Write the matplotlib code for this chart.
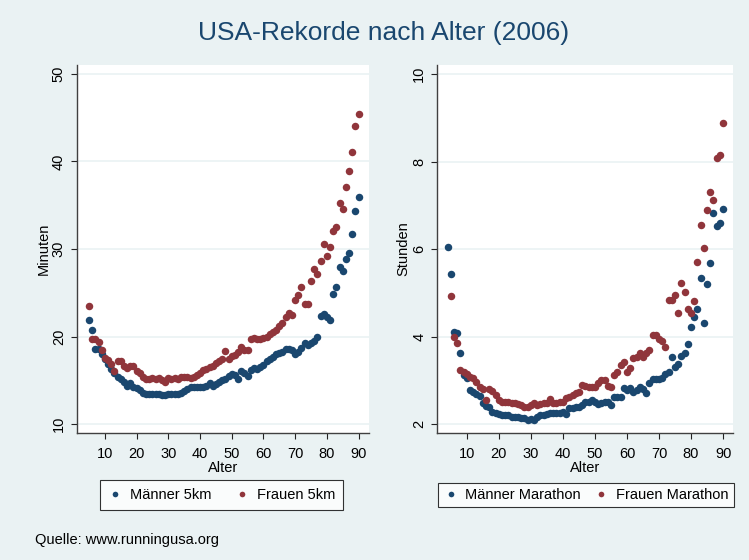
import matplotlib
matplotlib.use("Agg")
import matplotlib.pyplot as plt
import numpy as np

plt.rcParams['font.family'] = ['Liberation Sans', 'DejaVu Sans']

# Stata s2color
blau = '#1A476F'
rot = '#90353B'
hintergrund = '#EAF2F3'

# 5km (Minuten), Alter 5..90
alter_5km = list(range(5, 91))
maenner_5km = [21.9, 20.7, 18.6, 18.6, 18.0, 17.4, 16.9, 16.3, 15.8, 15.4,
               15.2, 14.8, 14.4, 14.7, 14.3, 14.1, 13.9, 13.6, 13.5, 13.5,
               13.4, 13.4, 13.4, 13.3, 13.3, 13.4, 13.4, 13.5, 13.5, 13.6,
               13.8, 14.0, 14.2, 14.3, 14.3, 14.3, 14.3, 14.4, 14.7, 14.4,
               14.6, 14.8, 15.0, 15.2, 15.5, 15.7, 15.6, 15.2, 16.1, 15.8,
               15.5, 16.2, 16.4, 16.3, 16.5, 16.8, 17.2, 17.4, 17.7, 18.0,
               18.1, 18.2, 18.6, 18.6, 18.5, 18.0, 18.3, 18.7, 19.3, 19.1,
               19.3, 19.5, 20.0, 22.3, 22.6, 22.2, 21.9, 24.9, 25.7, 28.0,
               27.5, 28.9, 29.5, 31.7, 34.3, 35.9]
frauen_5km = [23.5, 19.7, 19.7, 19.4, 18.5, 17.6, 17.3, 16.9, 16.1, 17.2,
              17.2, 16.7, 16.4, 16.6, 16.6, 16.1, 15.8, 15.4, 15.2, 15.2,
              15.3, 15.2, 15.3, 15.0, 14.8, 15.3, 15.2, 15.3, 15.2, 15.4,
              15.4, 15.4, 15.3, 15.4, 15.6, 15.9, 16.2, 16.3, 16.5, 16.7,
              17.0, 17.2, 17.5, 18.4, 17.5, 17.8, 17.9, 18.3, 18.8, 18.5,
              18.5, 19.7, 19.8, 19.7, 19.7, 19.8, 20.0, 20.3, 20.5, 20.8,
              21.2, 21.6, 22.2, 22.7, 22.5, 24.2, 24.7, 25.7, 23.7, 23.7,
              26.4, 27.7, 27.1, 28.6, 30.6, 29.2, 30.2, 32.0, 32.5, 35.3,
              34.6, 37.1, 38.9, 41.1, 44.0, 45.4]

# Marathon (Stunden)
alter_m_marathon = list(range(4, 91))
maenner_marathon = [6.06, 5.43, 4.12, 4.08, 3.62, 3.12, 3.05, 2.78, 2.74, 2.69,
                    2.65, 2.48, 2.42, 2.40, 2.29, 2.26, 2.24, 2.22, 2.21, 2.21,
                    2.18, 2.16, 2.17, 2.14, 2.14, 2.10, 2.12, 2.11, 2.17, 2.21,
                    2.22, 2.24, 2.25, 2.25, 2.27, 2.25, 2.28, 2.24, 2.37, 2.37,
                    2.39, 2.40, 2.44, 2.50, 2.52, 2.56, 2.50, 2.46, 2.48, 2.52,
                    2.50, 2.44, 2.63, 2.63, 2.62, 2.82, 2.78, 2.82, 2.75, 2.78,
                    2.86, 2.80, 2.72, 2.94, 3.03, 3.03, 3.03, 3.05, 3.15, 3.20,
                    3.53, 3.32, 3.39, 3.56, 3.62, 3.83, 4.22, 4.46, 4.63, 5.34,
                    4.31, 5.20, 5.68, 6.82, 6.53, 6.59, 6.91]
alter_f_marathon = list(range(5, 91))
frauen_marathon = [4.94, 4.00, 3.87, 3.24, 3.20, 3.15, 3.09, 3.05, 2.97, 2.86,
                   2.80, 2.56, 2.80, 2.76, 2.66, 2.56, 2.52, 2.52, 2.50, 2.48,
                   2.48, 2.46, 2.44, 2.40, 2.40, 2.44, 2.48, 2.44, 2.46, 2.48,
                   2.49, 2.59, 2.48, 2.48, 2.50, 2.52, 2.60, 2.63, 2.67, 2.71,
                   2.74, 2.90, 2.88, 2.86, 2.86, 2.86, 2.95, 3.01, 3.01, 2.88,
                   2.86, 3.13, 3.20, 3.36, 3.43, 3.20, 3.28, 3.51, 3.55, 3.62,
                   3.55, 3.62, 3.70, 4.04, 4.04, 3.94, 3.90, 3.77, 4.84, 4.84,
                   4.96, 4.54, 5.22, 5.03, 4.63, 4.54, 4.82, 5.72, 6.56, 6.04,
                   6.90, 7.32, 7.13, 8.08, 8.16, 8.89]

xticks = [10, 20, 30, 40, 50, 60, 70, 80, 90]

W, H = 749, 560
fig = plt.figure(figsize=(W / 100, H / 100), dpi=100, facecolor=hintergrund)


def px_axes(x0, y0, x1, y1):
    return fig.add_axes([x0 / W, 1 - y1 / H, (x1 - x0) / W, (y1 - y0) / H])


def style(ax, yticks, ylabel):
    ax.set_facecolor('white')
    for s in ['top', 'right']:
        ax.spines[s].set_visible(False)
    for s in ['left', 'bottom']:
        ax.spines[s].set_color('#404040')
        ax.spines[s].set_linewidth(1.0)
    ax.set_xticks(xticks)
    ax.set_yticks(yticks)
    ax.set_yticklabels([str(t) for t in yticks], rotation=90, va='center')
    ax.tick_params(axis='x', labelsize=10.5, length=4, width=0.8,
                   color='#222222', pad=6)
    ax.tick_params(axis='y', labelsize=10.5, length=4, width=0.8,
                   color='#222222', pad=4)
    ax.grid(axis='y', color=hintergrund, linewidth=1.2)
    ax.set_axisbelow(True)
    ax.set_xlabel('Alter', fontsize=10.5, labelpad=0)
    ax.set_ylabel(ylabel, fontsize=10.5, labelpad=1)


# links: 5km
ax1 = px_axes(77, 65, 368.7, 433)
ax1.plot(alter_5km, maenner_5km, 'o', color=blau, markersize=5.4, mec='none',
         label='Männer 5km')
ax1.plot(alter_5km, frauen_5km, 'o', color=rot, markersize=5.4, mec='none',
         label='Frauen 5km')
ax1.set_xlim(1.2, 93.2)
ax1.set_ylim(9.0, 51.0)
style(ax1, [10, 20, 30, 40, 50], 'Minuten')

# rechts: Marathon
ax2 = px_axes(437.3, 65, 732.7, 432.7)
ax2.plot(alter_m_marathon, maenner_marathon, 'o', color=blau, markersize=5.4,
         mec='none', label='Männer Marathon')
ax2.plot(alter_f_marathon, frauen_marathon, 'o', color=rot, markersize=5.4,
         mec='none', label='Frauen Marathon')
ax2.set_xlim(0.8, 93.0)
ax2.set_ylim(1.81, 10.21)
style(ax2, [2, 4, 6, 8, 10], 'Stunden')

for ax, cx, spalte, pad in [(ax1, 221.5, 1.6, 0.55), (ax2, 586, 0.9, 0.35)]:
    leg = ax.legend(loc='center', bbox_to_anchor=(cx / W, 1 - 495 / H),
                    bbox_transform=fig.transFigure, ncol=2, fontsize=10.5,
                    frameon=True, fancybox=False, markerscale=0.75,
                    handletextpad=0.5, columnspacing=spalte, handlelength=1.0,
                    borderpad=pad, borderaxespad=0)
    leg.get_frame().set_edgecolor('black')
    leg.get_frame().set_linewidth(0.8)
    leg.get_frame().set_facecolor('white')

fig.text(384 / W, 1 - 33 / H, 'USA-Rekorde nach Alter (2006)', fontsize=19,
         color=blau, ha='center', va='center')
fig.text(35 / W, 1 - 540 / H, 'Quelle: www.runningusa.org', fontsize=10.5,
         ha='left', va='center')

fig.savefig('out.png', dpi=100, facecolor=hintergrund)
